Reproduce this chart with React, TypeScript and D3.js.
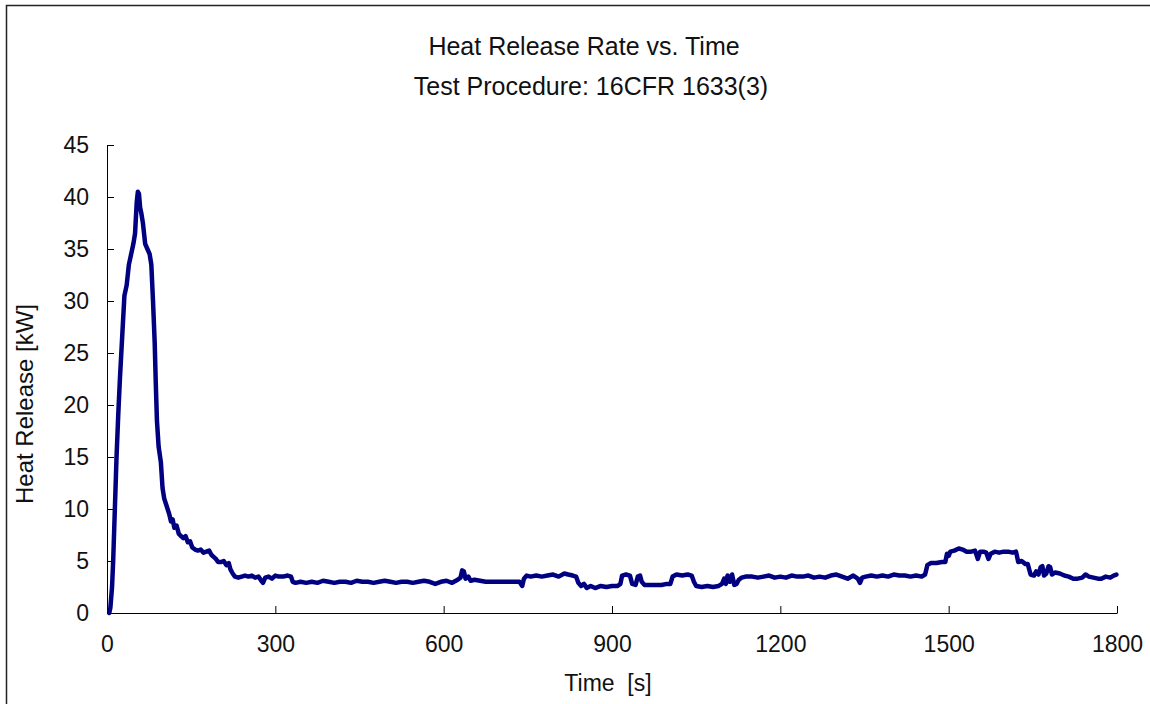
import React, { useRef, useEffect } from "react";
import * as d3 from "d3";

// time [s] and heat release [kW]
const times = [
  4, 6, 9, 11, 14, 17, 20, 23, 27, 31, 35, 39, 43, 47, 50, 53, 55, 57, 59, 61, 64, 68, 72, 76, 79,
  82, 85, 87, 89, 92, 96, 99, 102, 105, 108, 111, 114, 117, 120, 124, 128, 132, 136, 140, 144, 148,
  152, 157, 162, 167, 172, 177, 182, 186, 190, 194, 198, 203, 208, 213, 217, 220, 224, 228, 234,
  240, 246, 252, 258, 264, 270, 275, 278, 282, 288, 294, 300, 306, 314, 322, 328, 331, 336, 345,
  355, 365, 375, 385, 395, 405, 415, 425, 435, 445, 455, 465, 475, 485, 495, 505, 515, 525, 535,
  545, 555, 565, 575, 585, 595, 605, 615, 625, 630, 633, 636, 639, 644, 648, 655, 665, 675, 685,
  695, 705, 715, 725, 735, 740, 743, 748, 755, 765, 775, 785, 795, 805, 815, 822, 830, 836, 840,
  845, 850, 855, 862, 870, 880, 890, 900, 910, 915, 918, 925, 932, 936, 942, 946, 950, 953, 958,
  968, 978, 988, 998, 1004, 1008, 1015, 1025, 1035, 1042, 1046, 1050, 1060, 1070, 1080, 1090,
  1096, 1100, 1103, 1106, 1110, 1114, 1118, 1122, 1126, 1131, 1138, 1150, 1160, 1170, 1180, 1190,
  1200, 1210, 1220, 1230, 1240, 1250, 1260, 1270, 1280, 1290, 1300, 1310, 1320, 1330, 1338, 1342,
  1346, 1352, 1362, 1372, 1382, 1392, 1402, 1412, 1422, 1432, 1442, 1452, 1458, 1462, 1468, 1478,
  1488, 1494, 1497, 1500, 1503, 1510, 1518, 1525, 1532, 1540, 1547, 1552, 1556, 1562, 1567, 1571,
  1575, 1582, 1590, 1598, 1606, 1614, 1620, 1624, 1630, 1637, 1641, 1646, 1652, 1656, 1660, 1664,
  1667, 1670, 1674, 1678, 1681, 1684, 1690, 1698, 1706, 1714, 1722, 1730, 1738, 1744, 1750, 1758,
  1766, 1772, 1780, 1788, 1794, 1799,
];

const heatRelease = [
  0, 0.5, 2.5, 5, 10, 15, 19, 22.5, 26.5, 30.5, 31.5, 33.5, 34.5, 35.5, 36.5, 39.5, 40.5, 40.3, 39,
  38.5, 37.5, 35.5, 35, 34.5, 33.5, 30, 26, 22, 18.5, 16, 14.5, 12, 11, 10.5, 10, 9.5, 8.8, 9, 8.2,
  8.4, 7.6, 7.4, 7.2, 7.4, 6.8, 6.9, 6.3, 6.1, 6.0, 6.1, 5.8, 5.9, 6.0, 5.6, 5.4, 5.2, 4.9, 4.9,
  5.0, 4.6, 4.8, 4.2, 3.8, 3.5, 3.4, 3.5, 3.6, 3.5, 3.6, 3.4, 3.5, 3.1, 2.9, 3.4, 3.5, 3.3, 3.6,
  3.5, 3.5, 3.6, 3.5, 3.0, 2.9, 3.0, 2.9, 3.0, 2.9, 3.1, 3.0, 2.9, 3.0, 3.0, 2.9, 3.1, 3.0, 3.0,
  2.9, 3.0, 3.1, 3.0, 2.9, 3.0, 3.0, 2.9, 3.0, 3.1, 3.0, 2.8, 3.0, 3.1, 2.9, 3.2, 3.4, 4.1, 4.0,
  3.3, 3.5, 3.1, 3.2, 3.1, 3.0, 3.0, 3.0, 3.0, 3.0, 3.0, 3.0, 2.6, 3.3, 3.6, 3.5, 3.6, 3.5, 3.6,
  3.7, 3.5, 3.8, 3.7, 3.6, 3.5, 2.9, 2.6, 2.8, 2.4, 2.6, 2.4, 2.6, 2.5, 2.6, 2.6, 2.8, 3.6, 3.7,
  3.6, 2.8, 2.7, 3.5, 3.6, 3.0, 2.7, 2.7, 2.7, 2.7, 2.8, 2.8, 3.5, 3.7, 3.6, 3.7, 3.6, 3.0, 2.6,
  2.5, 2.6, 2.5, 2.6, 2.8, 3.3, 2.8, 3.6, 3.0, 3.7, 2.7, 2.8, 3.2, 3.4, 3.5, 3.5, 3.4, 3.5, 3.6,
  3.4, 3.5, 3.4, 3.6, 3.5, 3.5, 3.6, 3.4, 3.5, 3.4, 3.6, 3.7, 3.5, 3.3, 3.6, 3.3, 2.9, 3.4, 3.5,
  3.6, 3.5, 3.6, 3.5, 3.7, 3.6, 3.6, 3.5, 3.6, 3.5, 3.7, 4.6, 4.8, 4.8, 4.9, 4.9, 5.7, 5.5, 5.9,
  6.0, 6.2, 6.1, 5.9, 5.9, 6.0, 5.2, 5.9, 5.9, 5.8, 5.2, 5.7, 5.9, 5.8, 5.9, 5.9, 5.8, 5.9, 4.9,
  5.0, 4.7, 4.7, 3.7, 3.6, 4.0, 3.7, 4.4, 4.5, 3.6, 3.8, 4.5, 4.4, 3.7, 3.9, 3.8, 3.6, 3.5, 3.3,
  3.3, 3.4, 3.7, 3.5, 3.4, 3.3, 3.3, 3.5, 3.4, 3.6, 3.7,
];

const xTicks = [0, 300, 600, 900, 1200, 1500, 1800];
const yTicks = [0, 5, 10, 15, 20, 25, 30, 35, 40, 45];

const lineColor = "#000080";
const textColor = "#111";
const fontFamily = "'Liberation Sans', Arial, sans-serif";

export default function App() {
  const svgRef = useRef<SVGSVGElement>(null);

  useEffect(() => {
    if (!svgRef.current) return;
    const svg = d3.select(svgRef.current);
    svg.selectAll("*").remove();

    const left = 107;
    const right = 1117;
    const top = 145;
    const bottom = 613;

    const x = d3.scaleLinear().domain([0, 1800]).range([left, right]);
    const y = d3.scaleLinear().domain([0, 45]).range([bottom, top]);

    // outer frame (runs off the right and bottom edges)
    svg.append("rect")
      .attr("x", 6.5)
      .attr("y", 5.5)
      .attr("width", 1200)
      .attr("height", 760)
      .attr("fill", "white")
      .attr("stroke", "#222")
      .attr("stroke-width", 1.5);

    // titles
    svg.append("text")
      .attr("x", 584)
      .attr("y", 55)
      .attr("text-anchor", "middle")
      .attr("font-family", fontFamily)
      .attr("font-size", 25)
      .attr("fill", textColor)
      .text("Heat Release Rate vs. Time");

    svg.append("text")
      .attr("x", 591)
      .attr("y", 95)
      .attr("text-anchor", "middle")
      .attr("font-family", fontFamily)
      .attr("font-size", 25)
      .attr("fill", textColor)
      .text("Test Procedure: 16CFR 1633(3)");

    // axes
    const xAxis = d3.axisBottom(x)
      .tickValues(xTicks)
      .tickSizeInner(-7)
      .tickSizeOuter(0)
      .tickPadding(23)
      .tickFormat(d3.format("d"));

    const yAxis = d3.axisLeft(y)
      .tickValues(yTicks)
      .tickSizeInner(-7)
      .tickSizeOuter(0)
      .tickPadding(18)
      .tickFormat(d3.format("d"));

    const gx = svg.append("g").attr("transform", `translate(0, ${bottom})`).call(xAxis);
    const gy = svg.append("g").attr("transform", `translate(${left}, 0)`).call(yAxis);

    [gx, gy].forEach((g) => {
      g.selectAll("path, line").attr("stroke", "#000").attr("stroke-width", 1);
      g.selectAll("text")
        .attr("font-family", fontFamily)
        .attr("font-size", 23)
        .attr("fill", textColor);
    });

    // axis labels
    svg.append("text")
      .attr("x", 608)
      .attr("y", 691)
      .attr("text-anchor", "middle")
      .attr("font-family", fontFamily)
      .attr("font-size", 23)
      .attr("fill", textColor)
      .style("white-space", "pre")
      .text("Time  [s]");

    svg.append("text")
      .attr("transform", "translate(33, 404) rotate(-90)")
      .attr("text-anchor", "middle")
      .attr("font-family", fontFamily)
      .attr("font-size", 24)
      .attr("fill", textColor)
      .text("Heat Release [kW]");

    // data line
    const points = times.map((t, i) => [t, heatRelease[i]] as [number, number]);
    const lineGen = d3.line<[number, number]>()
      .x((d) => x(d[0]))
      .y((d) => y(d[1]));

    svg.append("path")
      .datum(points)
      .attr("d", lineGen)
      .attr("fill", "none")
      .attr("stroke", lineColor)
      .attr("stroke-width", 4.5)
      .attr("stroke-linejoin", "round")
      .attr("stroke-linecap", "round");
  }, []);

  return (
    <svg
      ref={svgRef}
      width={1150}
      height={704}
      style={{ display: "block", position: "absolute", left: 0, top: 0 }}
    />
  );
}
